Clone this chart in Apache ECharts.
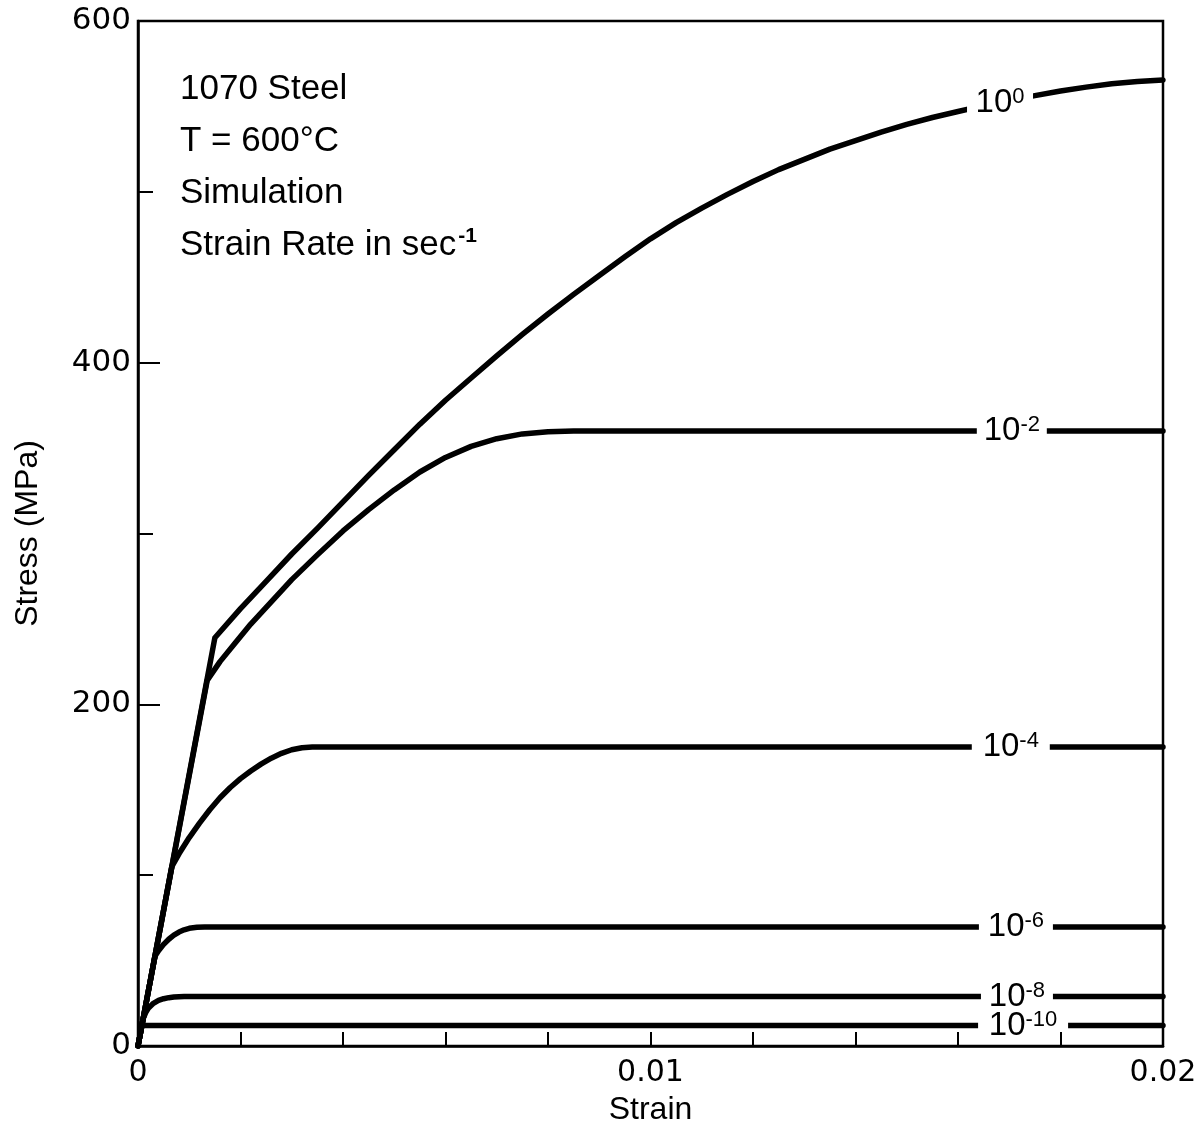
<!DOCTYPE html>
<html>
<head>
<meta charset="utf-8">
<title>1070 Steel stress-strain</title>
<script src="https://cdn.jsdelivr.net/npm/echarts@6/dist/echarts.min.js"></script>
<style>
  html, body { margin: 0; padding: 0; background: #fff; }
  #chart { width: 1203px; height: 1137px; }
</style>
</head>
<body>
<div id="chart"></div>
<script>
// strain rate exponents (sec^-1) for each curve
var rateExp = ['0', '-2', '-4', '-6', '-8', '-10'];

// strain / stress (MPa)
var strainR0 = [0, 0.0015, 0.002, 0.0025, 0.003, 0.0035, 0.004, 0.0045, 0.005, 0.0055, 0.006, 0.0065, 0.007, 0.0075, 0.008, 0.0085, 0.009, 0.0095, 0.01, 0.0105, 0.011, 0.0115, 0.012, 0.0125, 0.013, 0.0135, 0.014, 0.0145, 0.015, 0.0155, 0.016, 0.0165, 0.017, 0.0175, 0.018, 0.0185, 0.019, 0.0195, 0.02];
var stressR0 = [0, 239, 256, 272, 288, 303, 318.5, 334, 349, 364, 378, 391, 404, 416.5, 428.5, 440, 451, 462, 472.5, 482, 490.5, 498.5, 506, 513, 519, 525, 530, 535, 539.5, 543.5, 547, 550.5, 553.5, 556.3, 559, 561.3, 563.3, 564.6, 565.5];

var strainR2 = [0, 0.00135, 0.0016, 0.0019, 0.0022, 0.0026, 0.003, 0.0035, 0.004, 0.0045, 0.005, 0.0055, 0.006, 0.0065, 0.007, 0.0075, 0.008, 0.0085, 0.02];
var stressR2 = [0, 214, 225, 236, 247, 260, 273, 287.5, 301.5, 314, 325.5, 336, 344.5, 351, 355.5, 358.3, 359.6, 360, 360];

var strainR4 = [0, 0.00066, 0.0008, 0.001, 0.0012, 0.0014, 0.0016, 0.0018, 0.002, 0.0022, 0.0024, 0.0026, 0.0028, 0.003, 0.0032, 0.0034, 0.02];
var stressR4 = [0, 105, 112.5, 122, 130.5, 138.3, 145.3, 151.3, 156.5, 161, 165, 168.5, 171.3, 173.4, 174.6, 175, 175];

var strainR6 = [0, 0.00033, 0.0004, 0.0005, 0.0006, 0.0007, 0.0008, 0.0009, 0.001, 0.00115, 0.0013, 0.02];
var stressR6 = [0, 52.5, 55.8, 59.5, 62.5, 64.9, 66.7, 68, 68.9, 69.5, 69.7, 69.7];

var strainR8 = [0, 0.0001, 0.00015, 0.0002, 0.0003, 0.0004, 0.0005, 0.0006, 0.0007, 0.0009, 0.02];
var stressR8 = [0, 16, 19.5, 22, 25, 26.7, 27.7, 28.3, 28.7, 29, 29];

var strainR10 = [0, 0.000075, 0.02];
var stressR10 = [0, 12, 12];

// where each curve label sits along the curve
var labelStrain = [0.01682, 0.01705, 0.01703, 0.01713, 0.01715, 0.01727];
var labelStress = [552, 360, 175, 69.7, 29, 12];

var xTicks = [0, 0.01, 0.02];
var yTicks = [0, 200, 400, 600];

var strainSets = [strainR0, strainR2, strainR4, strainR6, strainR8, strainR10];
var stressSets = [stressR0, stressR2, stressR4, stressR6, stressR8, stressR10];
var gapSizes = [[66, 26], [70, 14], [78, 14], [74, 14], [72, 14], [90, 12]];

function pairs(xs, ys) {
  var out = [];
  for (var i = 0; i < xs.length; i++) out.push([xs[i], ys[i]]);
  return out;
}

var labelRich = {
  b: { fontFamily: 'Liberation Sans', fontSize: 33, color: '#000', lineHeight: 34 },
  s: { fontFamily: 'Liberation Sans', fontSize: 22, color: '#000', verticalAlign: 'top', lineHeight: 34 }
};

var series = [];
for (var k = 0; k < rateExp.length; k++) {
  series.push({
    name: '10^' + rateExp[k],
    type: 'line',
    data: pairs(strainSets[k], stressSets[k]),
    symbol: 'none',
    lineStyle: { color: '#000', width: 5.5, cap: 'round', join: 'round' },
    markPoint: {
      silent: true,
      data: [{
        coord: [labelStrain[k], labelStress[k]],
        symbol: 'rect',
        symbolSize: gapSizes[k],
        itemStyle: { color: '#fff' },
        label: {
          show: true,
          position: 'inside',
          formatter: '{b|10}{s|' + rateExp[k] + '}',
          rich: labelRich
        }
      }]
    }
  });
}

var chart = echarts.init(document.getElementById('chart'));
chart.setOption({
  animation: false,
  backgroundColor: '#fff',
  grid: {
    left: 138, right: 40, top: 21, bottom: 91,
    show: true, borderColor: '#000', borderWidth: 2.5, backgroundColor: 'transparent'
  },
  xAxis: {
    type: 'value',
    min: 0, max: 0.02, interval: 0.002,
    name: 'Strain',
    nameLocation: 'middle',
    nameGap: 48,
    nameTextStyle: { fontFamily: 'Liberation Sans', fontSize: 32, color: '#000' },
    axisLine: { lineStyle: { color: '#000', width: 2.5 } },
    axisTick: { inside: true, length: 14, lineStyle: { color: '#000', width: 2 } },
    splitLine: { show: false },
    axisLabel: {
      margin: 12,
      fontFamily: 'DejaVu Sans', fontSize: 30, color: '#000',
      formatter: function (v) {
        for (var i = 0; i < xTicks.length; i++) {
          if (Math.abs(v - xTicks[i]) < 1e-9) return String(xTicks[i]);
        }
        return '';
      }
    }
  },
  yAxis: [{
    type: 'value',
    min: 0, max: 600, interval: 100,
    name: 'Stress (MPa)',
    nameLocation: 'middle',
    nameGap: 94,
    nameTextStyle: { fontFamily: 'Liberation Sans', fontSize: 32, color: '#000' },
    axisLine: { lineStyle: { color: '#000', width: 2.5 } },
    axisTick: { inside: true, length: 15, lineStyle: { color: '#000', width: 2 } },
    splitLine: { show: false },
    axisLabel: {
      margin: 7,
      fontFamily: 'DejaVu Sans', fontSize: 31, color: '#000',
      formatter: function (v) { return yTicks.indexOf(v) >= 0 ? String(v) : ''; }
    }
  }, {
    type: 'value',
    position: 'left',
    min: 0, max: 600, interval: 200,
    axisLine: { show: false },
    axisTick: { show: true, inside: true, length: 22, lineStyle: { color: '#000', width: 2 } },
    axisLabel: { show: false },
    splitLine: { show: false }
  }],
  graphic: [{
    type: 'text',
    left: 180,
    top: 72,
    style: {
      text: '{a|1070 Steel}\n{a|T = 600°C}\n{a|Simulation}\n{a|Strain Rate in sec}{s|-1}',
      rich: {
        a: { fontFamily: 'Liberation Sans', fontSize: 35, color: '#000', lineHeight: 52 },
        s: { fontFamily: 'Liberation Sans', fontSize: 21, color: '#000', fontWeight: 'bold', verticalAlign: 'top', lineHeight: 52, padding: [6, 0, 0, 2] }
      }
    }
  }],
  series: series
});
</script>
</body>
</html>
